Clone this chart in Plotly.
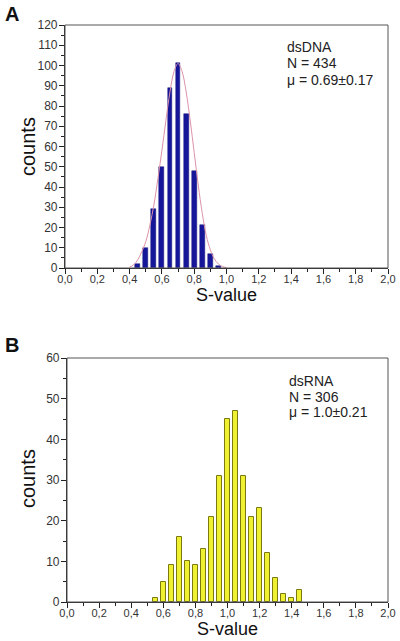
import plotly.graph_objects as go

# ---- data ----
dna_x = [0.45, 0.50, 0.55, 0.60, 0.65, 0.70, 0.75, 0.80, 0.85, 0.90, 0.95]
dna_counts = [2, 10, 29, 50, 89, 101, 76, 48, 21, 7, 1]

dna_fit_x = [0.40, 0.425, 0.45, 0.475, 0.50, 0.525, 0.55, 0.575, 0.60, 0.625, 0.65, 0.675,
             0.70, 0.725, 0.75, 0.775, 0.80, 0.825, 0.85, 0.875, 0.90, 0.925, 0.95, 0.975, 1.0]
dna_fit_y = [0.5, 1.5, 4, 8, 13, 21, 31, 44, 58, 73, 87, 97,
             101, 97, 87, 73, 57, 41, 27, 16, 9, 4.5, 2, 0.7, 0.2]

rna_x = [0.55, 0.60, 0.65, 0.70, 0.75, 0.80, 0.85, 0.90, 0.95, 1.00,
         1.05, 1.10, 1.15, 1.20, 1.25, 1.30, 1.35, 1.40, 1.45]
rna_counts = [1, 5, 9, 16, 10, 9, 13, 21, 31, 45, 47, 31, 21, 23, 12, 6, 2, 1, 3]

x_tickvals = [0.0, 0.2, 0.4, 0.6, 0.8, 1.0, 1.2, 1.4, 1.6, 1.8, 2.0]
x_ticktext = ["0,0", "0,2", "0,4", "0,6", "0,8", "1,0", "1,2", "1,4", "1,6", "1,8", "2,0"]
dna_yticks = list(range(0, 121, 10))
rna_yticks = list(range(0, 61, 10))

dna_text = ["dsDNA", "N = 434", "μ = 0.69±0.17"]
rna_text = ["dsRNA", "N = 306", "μ = 1.0±0.21"]

FONT = "Arial, Liberation Sans, sans-serif"
L, R, T, B = 65, 12, 25, 39
W = 400 - L - R   # plot width px
H = 641 - T - B   # plot height px


def px_x(x):
    return (x - L) / W


def px_y(y):
    return (641 - B - y) / H


fig = go.Figure()

fig.add_trace(go.Bar(x=dna_x, y=dna_counts, width=0.03,
                     marker=dict(color="#16169a", line=dict(color="#10107a", width=0.5)),
                     xaxis="x", yaxis="y", showlegend=False))
fig.add_trace(go.Scatter(x=dna_fit_x, y=dna_fit_y, mode="lines",
                         line=dict(color="#dc93a8", width=1, shape="spline"),
                         xaxis="x", yaxis="y", showlegend=False))
fig.add_trace(go.Bar(x=rna_x, y=rna_counts, width=0.028,
                     marker=dict(color="#f0f032", line=dict(color="#7a7a10", width=1)),
                     xaxis="x2", yaxis="y2", showlegend=False))

common_x = dict(range=[0, 2.0], tickvals=x_tickvals, ticktext=x_ticktext,
                ticks="outside", ticklen=5, tickwidth=1, tickcolor="#222",
                minor=dict(dtick=0.1, ticks="outside", ticklen=3, tickcolor="#222"),
                showline=True, linecolor="#222", linewidth=1.2, mirror=False,
                showgrid=False, zeroline=False, automargin=False,
                ticklabelstandoff=-4,
                tickfont=dict(family=FONT, size=11, color="#333"),
                title_font=dict(family=FONT, size=18, color="#111"))
common_y = dict(ticks="outside", ticklen=5, tickwidth=1, tickcolor="#222",
                minor=dict(dtick=5, ticks="outside", ticklen=3, tickcolor="#222"),
                showline=True, linecolor="#222", linewidth=1.2,
                showgrid=False, zeroline=False, automargin=False,
                ticklabelstandoff=-1,
                tickfont=dict(family=FONT, size=12, color="#333"))

fig.update_layout(
    width=400, height=641,
    margin=dict(l=L, r=R, t=T, b=B),
    paper_bgcolor="white", plot_bgcolor="white",
    bargap=0,
    xaxis=dict(common_x, domain=[0, 1], anchor="y",
               title=dict(text="S-value", standoff=0)),
    yaxis=dict(common_y, domain=[px_y(268), 1.0], range=[0, 120], tickvals=dna_yticks,
               anchor="x"),
    xaxis2=dict(common_x, domain=[px_x(67), 1], anchor="y2",
                title=dict(text="S-value", standoff=0)),
    yaxis2=dict(common_y, domain=[0, px_y(358)], range=[0, 60], tickvals=rna_yticks,
                anchor="x2"),
)

# frame (top/right gray lines)
for xr, yr in [("x domain", "y domain"), ("x2 domain", "y2 domain")]:
    fig.add_shape(type="rect", xref=xr, yref=yr, x0=0, x1=1, y0=0, y1=1,
                  line=dict(color="#555", width=1))

# y-axis titles
for cy in (147, 479):
    fig.add_annotation(text="counts", xref="paper", yref="paper", x=px_x(28), y=px_y(cy),
                       textangle=-90, xanchor="center", yanchor="middle", showarrow=False,
                       font=dict(family=FONT, size=20, color="#111"))

for i, t in enumerate(dna_text):
    fig.add_annotation(text=t, xref="x", yref="paper", x=1.36,
                       y=px_y(47 + i * 16.5),
                       yanchor="middle", xanchor="left", showarrow=False,
                       font=dict(family=FONT, size=14, color="#222"))
for i, t in enumerate(rna_text):
    fig.add_annotation(text=t, xref="x2", yref="paper", x=1.37,
                       y=px_y(381 + i * 15.5),
                       yanchor="middle", xanchor="left", showarrow=False,
                       font=dict(family=FONT, size=14, color="#222"))

fig.add_annotation(text="<b>A</b>", xref="paper", yref="paper", x=px_x(3), y=px_y(14),
                   xanchor="left", yanchor="middle", showarrow=False,
                   font=dict(family=FONT, size=20, color="#111"))
fig.add_annotation(text="<b>B</b>", xref="paper", yref="paper", x=px_x(3), y=px_y(345),
                   xanchor="left", yanchor="middle", showarrow=False,
                   font=dict(family=FONT, size=20, color="#111"))

fig.write_html("out.html", config={"displayModeBar": False},
               post_script="document.body.style.margin='0px';")
